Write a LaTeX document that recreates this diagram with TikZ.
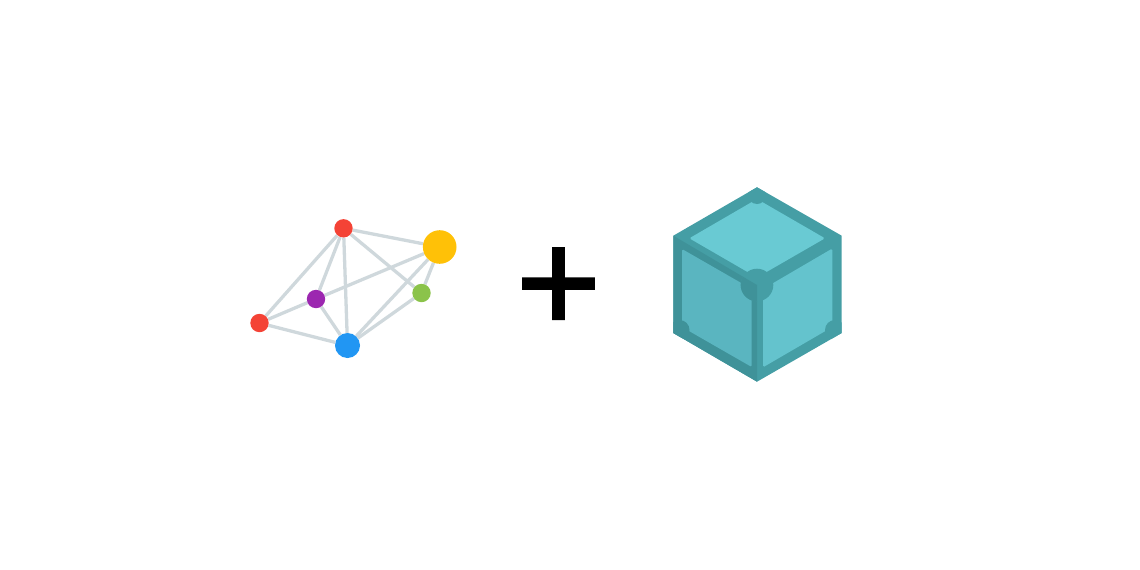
\documentclass[tikz,border=0pt]{standalone}
\usepackage{fontspec}
\setmainfont{Liberation Sans}
\usepackage{xcolor}
\usetikzlibrary{backgrounds}
\definecolor{edgegray}{HTML}{CFD8DC}
\definecolor{dotred}{HTML}{F44336}
\definecolor{dotyellow}{HTML}{FFC107}
\definecolor{dotgreen}{HTML}{8BC34A}
\definecolor{dotpurple}{HTML}{9C27B0}
\definecolor{dotblue}{HTML}{2196F3}
\definecolor{framelight}{HTML}{459EA5}
\definecolor{framedark}{HTML}{3F9299}
\definecolor{facetop}{HTML}{69CAD3}
\definecolor{faceleft}{HTML}{5AB5C0}
\definecolor{faceright}{HTML}{64C3CD}

\begin{document}
\begin{tikzpicture}[x=1pt, y=-1pt,
    dot/.style={circle, inner sep=0pt, minimum size=18.4pt},
    link/.style={draw=edgegray, line width=3.3pt},
    face/.style={rounded corners=1.5pt}]
      \useasboundingbox (0,0) rectangle (1140,570);

      % graph
      \node[dot, fill=dotred] (top) at (343.5,228.3) {};
      \node[dot, fill=dotyellow, minimum size=33.6pt] (hub) at (439.7,247) {};
      \node[dot, fill=dotgreen] (leaf) at (421.5,293) {};
      \node[dot, fill=dotpurple] (mid) at (316,299) {};
      \node[dot, fill=dotred] (left) at (259.5,323) {};
      \node[dot, fill=dotblue, minimum size=25pt] (base) at (347.5,345.5) {};
      \begin{scope}[on background layer]
        \draw[link] (top) -- (hub);
        \draw[link] (top) -- (leaf);
        \draw[link] (top) -- (base);
        \draw[link] (top) -- (mid);
        \draw[link] (top) -- (left);
        \draw[link] (hub) -- (mid);
        \draw[link] (hub) -- (leaf);
        \draw[link] (hub) -- (base);
        \draw[link] (leaf) -- (base);
        \draw[link] (mid) -- (left);
        \draw[link] (mid) -- (base);
        \draw[link] (left) -- (base);
      \end{scope}

      % plus sign
      \node[inner sep=0pt, font=\fontsize{145}{145}\selectfont\addfontfeature{FakeBold=1.5}] (plus) at (558.5,290) {+};

      % cube
      \fill[framelight] (757,187.3) -- (841.7,235.7) -- (841.7,333) -- (757,381.7)
                        -- (673.3,333) -- (673.3,235.7) -- cycle;
      \fill[framedark] (673.3,235.7) -- (757,285) -- (757,381.7) -- (673.3,333) -- cycle;
      \fill[facetop, face] (757,199) -- (825,238.3) -- (757,277.5) -- (689.3,238.3) -- cycle;
      \fill[faceleft, face] (682,249) -- (751.7,289) -- (751.7,367) -- (682,327) -- cycle;
      \fill[faceright, face] (763,289) -- (832.3,248.5) -- (832.3,327) -- (763,367.3) -- cycle;
      % corner bumps
      \fill[framelight] (757,285) circle (16.3);
      \begin{scope}
        \clip (673.3,235.7) -- (757,285) -- (757,381.7) -- (673.3,333) -- cycle;
        \fill[framedark] (757,285) circle (16.3);
        \fill[framedark] (679.5,330) circle (10);
      \end{scope}
      \begin{scope}
        \clip (757,187.3) -- (841.7,235.7) -- (841.7,333) -- (757,381.7) -- cycle;
        \fill[framelight] (835,330) circle (10);
      \end{scope}
      \begin{scope}
        \clip (757,187.3) -- (841.7,235.7) -- (673.3,235.7) -- cycle;
        \fill[framelight] (757,195) circle (9);
      \end{scope}
\end{tikzpicture}
\end{document}
